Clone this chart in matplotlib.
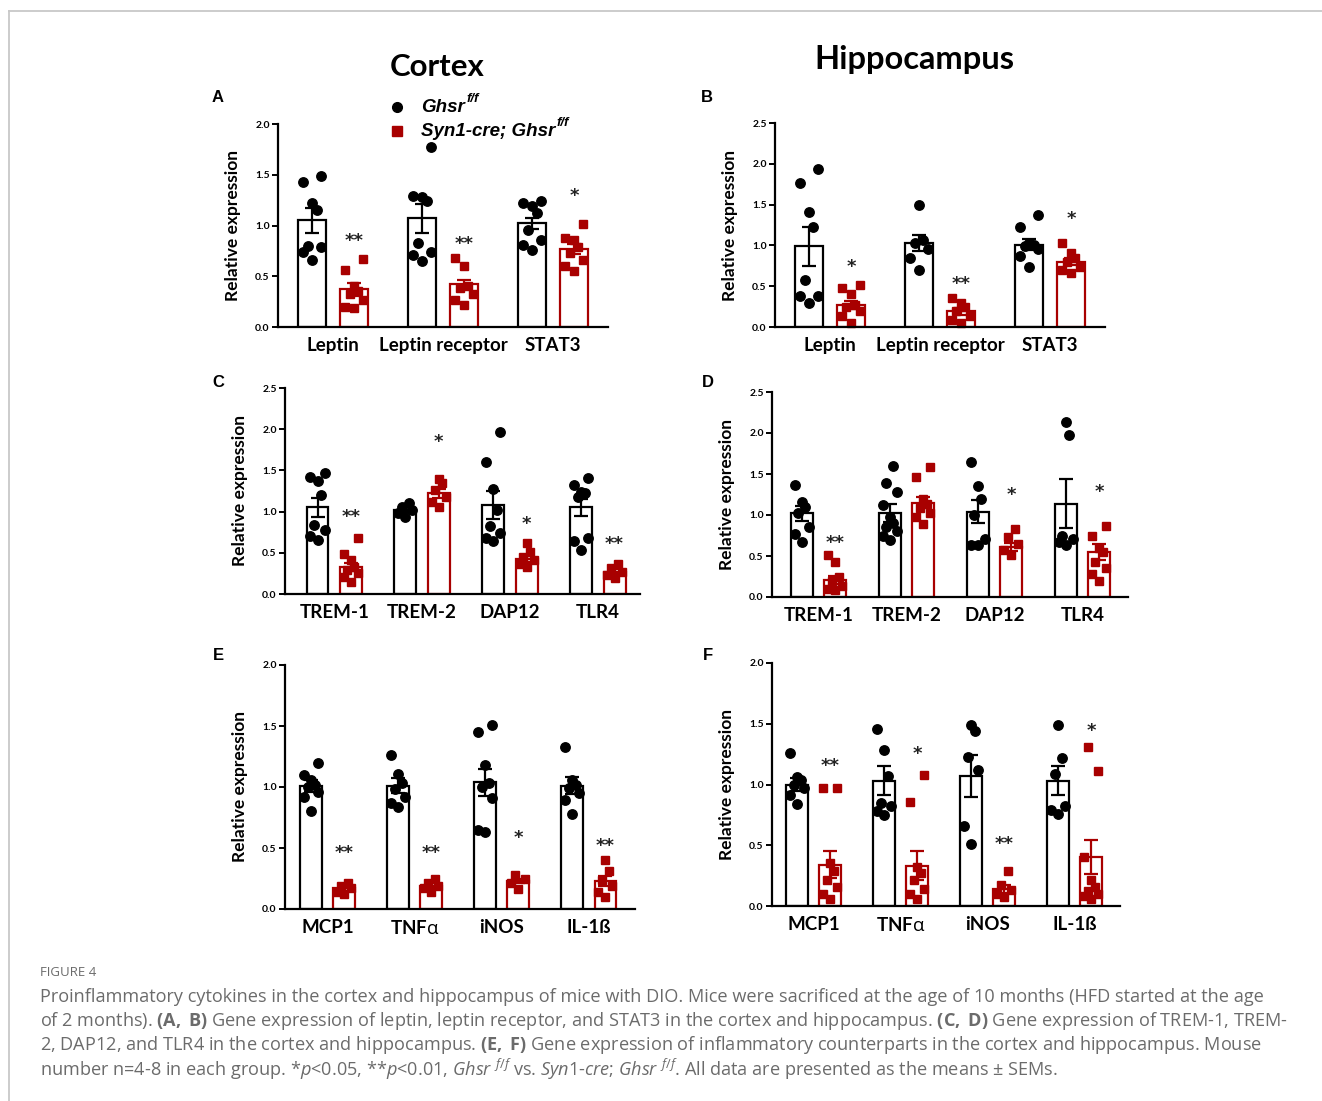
import numpy as np
import matplotlib
matplotlib.use('Agg')
import matplotlib.pyplot as plt
from matplotlib.lines import Line2D

plt.rcParams['mathtext.fontset'] = 'custom'
plt.rcParams['mathtext.rm'] = 'Open Sans'
plt.rcParams['mathtext.it'] = 'Open Sans:italic'
plt.rcParams['mathtext.bf'] = 'Open Sans:bold'

RED = '#a80000'
LABEL_FONT = 'Lato'

# ---- panel A: cortex, leptin signalling ----
a_cats = ['Leptin', 'Leptin receptor', 'STAT3']
a_ctrl_mean = [1.05, 1.07, 1.02]
a_ctrl_sem = [0.12, 0.14, 0.05]
a_ko_mean = [0.37, 0.42, 0.77]
a_ko_sem = [0.06, 0.04, 0.05]
a_ctrl_pts = [[1.49, 1.43, 1.22, 1.15, 0.80, 0.79, 0.74, 0.66],
              [1.77, 1.29, 1.28, 1.24, 0.83, 0.74, 0.71, 0.65],
              [1.24, 1.22, 1.19, 1.12, 0.96, 0.86, 0.81, 0.76]]
a_ko_pts = [[0.67, 0.56, 0.40, 0.35, 0.33, 0.27, 0.20, 0.19],
            [0.68, 0.60, 0.40, 0.38, 0.33, 0.27, 0.22],
            [1.01, 0.88, 0.86, 0.79, 0.73, 0.66, 0.60, 0.55]]
a_stars = ['**', '**', '*']
a_star_y = [0.85, 0.82, 1.29]

# ---- panel B: hippocampus, leptin signalling ----
b_cats = ['Leptin', 'Leptin receptor', 'STAT3']
b_ctrl_mean = [0.99, 1.03, 1.01]
b_ctrl_sem = [0.24, 0.10, 0.07]
b_ko_mean = [0.27, 0.19, 0.80]
b_ko_sem = [0.05, 0.04, 0.04]
b_ctrl_pts = [[1.94, 1.77, 1.41, 1.23, 0.57, 0.38, 0.38, 0.29],
              [1.50, 1.07, 1.03, 0.95, 0.85, 0.70],
              [1.37, 1.22, 1.03, 1.01, 0.99, 0.95, 0.87, 0.74]]
b_ko_pts = [[0.52, 0.48, 0.40, 0.27, 0.25, 0.19, 0.13, 0.05],
            [0.36, 0.29, 0.25, 0.19, 0.13, 0.09, 0.05],
            [1.03, 0.91, 0.85, 0.80, 0.74, 0.70, 0.66]]
b_stars = ['*', '**', '*']
b_star_y = [0.73, 0.53, 1.32]

# ---- panel C: cortex, microglia receptors ----
c_cats = ['TREM-1', 'TREM-2', 'DAP12', 'TLR4']
c_ctrl_mean = [1.05, 1.02, 1.08, 1.05]
c_ctrl_sem = [0.11, 0.03, 0.17, 0.10]
c_ko_mean = [0.33, 1.22, 0.43, 0.27]
c_ko_sem = [0.05, 0.05, 0.04, 0.03]
c_ctrl_pts = [[1.47, 1.42, 1.37, 1.20, 0.84, 0.78, 0.70, 0.66],
              [1.10, 1.06, 1.02, 0.98, 0.94],
              [1.97, 1.60, 1.28, 1.02, 0.82, 0.74, 0.68, 0.64],
              [1.41, 1.32, 1.24, 1.22, 1.18, 0.68, 0.64, 0.53]]
c_ko_pts = [[0.68, 0.49, 0.41, 0.33, 0.29, 0.25, 0.21, 0.15],
            [1.39, 1.35, 1.26, 1.18, 1.12, 1.06],
            [0.62, 0.51, 0.45, 0.41, 0.37, 0.33],
            [0.37, 0.31, 0.27, 0.23, 0.19]]
c_stars = ['**', '*', '*', '**']
c_star_y = [0.93, 1.84, 0.85, 0.61]

# ---- panel D: hippocampus, microglia receptors ----
d_cats = ['TREM-1', 'TREM-2', 'DAP12', 'TLR4']
d_ctrl_mean = [1.02, 1.02, 1.04, 1.14]
d_ctrl_sem = [0.09, 0.11, 0.14, 0.30]
d_ko_mean = [0.21, 1.15, 0.61, 0.55]
d_ko_sem = [0.05, 0.07, 0.05, 0.10]
d_ctrl_pts = [[1.36, 1.16, 1.10, 1.02, 0.85, 0.77, 0.67],
              [1.60, 1.39, 1.28, 1.12, 0.98, 0.90, 0.85, 0.80, 0.75, 0.69],
              [1.65, 1.35, 1.20, 1.00, 0.71, 0.63, 0.63],
              [2.13, 1.97, 0.75, 0.71, 0.67, 0.63]]
d_ko_pts = [[0.51, 0.43, 0.24, 0.20, 0.14, 0.10, 0.08],
            [1.59, 1.46, 1.20, 1.14, 1.08, 1.02, 0.98, 0.89],
            [0.83, 0.73, 0.65, 0.57, 0.51],
            [0.87, 0.75, 0.60, 0.55, 0.43, 0.35, 0.28, 0.20]]
d_stars = ['**', '', '*', '*']
d_star_y = [0.66, 0, 1.24, 1.28]

# ---- panel E: cortex, inflammatory markers ----
e_cats = ['MCP1', r'TNF$\mathrm{\alpha}$', 'iNOS', 'IL-1ß']
e_ctrl_mean = [1.01, 1.01, 1.04, 1.01]
e_ctrl_sem = [0.05, 0.06, 0.11, 0.07]
e_ko_mean = [0.17, 0.19, 0.23, 0.23]
e_ko_sem = [0.02, 0.02, 0.02, 0.04]
e_ctrl_pts = [[1.20, 1.10, 1.06, 1.02, 1.00, 0.96, 0.92, 0.80],
              [1.26, 1.11, 1.03, 0.98, 0.92, 0.87, 0.84],
              [1.51, 1.45, 1.18, 1.03, 1.00, 0.91, 0.65, 0.63],
              [1.33, 1.06, 1.02, 0.99, 0.95, 0.89, 0.78]]
e_ko_pts = [[0.21, 0.19, 0.17, 0.14, 0.12],
            [0.25, 0.21, 0.19, 0.17, 0.14],
            [0.28, 0.25, 0.21, 0.16],
            [0.40, 0.31, 0.24, 0.19, 0.14, 0.10]]
e_stars = ['**', '**', '*', '**']
e_star_y = [0.46, 0.46, 0.58, 0.52]

# ---- panel F: hippocampus, inflammatory markers ----
f_cats = ['MCP1', r'TNF$\mathrm{\alpha}$', 'iNOS', 'IL-1ß']
f_ctrl_mean = [1.00, 1.03, 1.07, 1.03]
f_ctrl_sem = [0.05, 0.12, 0.17, 0.12]
f_ko_mean = [0.34, 0.33, 0.14, 0.40]
f_ko_sem = [0.11, 0.12, 0.03, 0.14]
f_ctrl_pts = [[1.26, 1.06, 1.04, 1.00, 0.97, 0.91, 0.84],
              [1.46, 1.28, 1.07, 0.85, 0.82, 0.78, 0.75],
              [1.49, 1.44, 1.23, 1.12, 0.66, 0.51],
              [1.49, 1.22, 1.09, 0.82, 0.79, 0.76]]
f_ko_pts = [[0.97, 0.97, 0.35, 0.29, 0.21, 0.16, 0.10, 0.06],
            [1.08, 0.86, 0.32, 0.27, 0.21, 0.14, 0.10, 0.06],
            [0.29, 0.17, 0.13, 0.10, 0.07],
            [1.31, 1.11, 0.40, 0.21, 0.16, 0.12, 0.10, 0.08, 0.06]]
f_stars = ['**', '*', '**', '*']
f_star_y = [1.15, 1.25, 0.51, 1.44]

W, H = 1322, 1101
OFF = 0.19
BW = 0.25


def px_axes(fig, x0, x1, ytop, ybot):
    return fig.add_axes([x0 / W, 1 - ybot / H, (x1 - x0) / W, (ybot - ytop) / H])


def swarm(vals):
    # spread points sideways by rank so they don't sit on top of each other
    order = np.argsort(vals)
    pattern = np.array([0.0, -1.0, 1.0, -0.5, 0.5])
    offs = np.zeros(len(vals))
    for rank, i in enumerate(order):
        offs[i] = pattern[rank % 5] * 0.08
    return offs


def draw_panel(ax, cats, cm, cs, cpts, km, ks, kpts, stars, star_y, ymax, xlim):
    x = np.arange(len(cats))
    ax.bar(x - OFF, cm, BW, color='white', edgecolor='black', linewidth=1.6, zorder=1)
    ax.bar(x + OFF, km, BW, color='white', edgecolor=RED, linewidth=1.6, zorder=1)
    for i in range(len(cats)):
        ax.plot(x[i] - OFF + swarm(cpts[i]), cpts[i], 'o', color='black', ms=6.8,
                zorder=2, clip_on=False)
        ax.plot(x[i] + OFF + swarm(kpts[i]), kpts[i], 's', color=RED, ms=6.3,
                zorder=2, clip_on=False)
        if stars[i]:
            ax.text(x[i] + OFF, star_y[i], stars[i], ha='center', va='center',
                    fontsize=13, fontweight='bold', color='#222222', family='DejaVu Sans')
    ax.errorbar(x - OFF, cm, yerr=cs, fmt='none', ecolor='black', elinewidth=1.6,
                capsize=5, capthick=1.6, zorder=3)
    ax.errorbar(x + OFF, km, yerr=ks, fmt='none', ecolor=RED, elinewidth=1.6,
                capsize=5, capthick=1.6, zorder=3)
    ax.set_xlim(*xlim)
    ax.set_ylim(0, ymax)
    ax.set_yticks(np.arange(0, ymax + 0.01, 0.5))
    ax.set_yticklabels(['%.1f' % v for v in np.arange(0, ymax + 0.01, 0.5)],
                       fontsize=7.5, fontweight='bold', family=LABEL_FONT)
    ax.set_xticks(x)
    ax.set_xticklabels(cats, fontsize=13.5, fontweight='bold', family=LABEL_FONT)
    ax.tick_params(axis='x', length=0, pad=7)
    ax.tick_params(axis='y', length=4, width=1.4, pad=2)
    ax.spines['top'].set_visible(False)
    ax.spines['right'].set_visible(False)
    ax.spines['left'].set_linewidth(1.6)
    ax.spines['bottom'].set_linewidth(1.6)
    ax.set_ylabel('Relative expression', fontsize=12.5, fontweight='bold',
                  family=LABEL_FONT, labelpad=10)
    ax.patch.set_alpha(0)


fig = plt.figure(figsize=(W / 100, H / 100), dpi=100)

# thin frame lines at the top and left of the figure
fig.add_artist(Line2D([9 / W, 1], [1 - 11 / H, 1 - 11 / H], color='#c8c8c8', lw=1.3))
fig.add_artist(Line2D([9 / W, 9 / W], [0, 1 - 11 / H], color='#c8c8c8', lw=1.3))

axA = px_axes(fig, 278, 608, 124, 327)
draw_panel(axA, a_cats, a_ctrl_mean, a_ctrl_sem, a_ctrl_pts, a_ko_mean, a_ko_sem,
           a_ko_pts, a_stars, a_star_y, 2.0, (-0.5, 2.5))
axB = px_axes(fig, 775, 1105, 123, 327)
draw_panel(axB, b_cats, b_ctrl_mean, b_ctrl_sem, b_ctrl_pts, b_ko_mean, b_ko_sem,
           b_ko_pts, b_stars, b_star_y, 2.5, (-0.5, 2.5))
axC = px_axes(fig, 285, 640, 388, 594)
draw_panel(axC, c_cats, c_ctrl_mean, c_ctrl_sem, c_ctrl_pts, c_ko_mean, c_ko_sem,
           c_ko_pts, c_stars, c_star_y, 2.5, (-0.56, 3.48))
axD = px_axes(fig, 772, 1128, 392, 597)
draw_panel(axD, d_cats, d_ctrl_mean, d_ctrl_sem, d_ctrl_pts, d_ko_mean, d_ko_sem,
           d_ko_pts, d_stars, d_star_y, 2.5, (-0.53, 3.52))
axE = px_axes(fig, 285, 635, 665, 909)
draw_panel(axE, e_cats, e_ctrl_mean, e_ctrl_sem, e_ctrl_pts, e_ko_mean, e_ko_sem,
           e_ko_pts, e_stars, e_star_y, 2.0, (-0.49, 3.53))
axF = px_axes(fig, 772, 1120, 663, 906)
draw_panel(axF, f_cats, f_ctrl_mean, f_ctrl_sem, f_ctrl_pts, f_ko_mean, f_ko_sem,
           f_ko_pts, f_stars, f_star_y, 2.0, (-0.48, 3.52))

# column titles and panel letters
fig.text(437 / W, 1 - 67 / H, 'Cortex', ha='center', va='center', fontsize=22.5,
         fontweight='bold', family=LABEL_FONT)
fig.text(914 / W, 1 - 60 / H, 'Hippocampus', ha='center', va='center', fontsize=23.5,
         fontweight='bold', family=LABEL_FONT)
for letter, (lx, ly) in zip('ABCDEF', [(218, 97), (707, 97), (218, 383), (708, 383),
                                       (218, 656), (708, 656)]):
    fig.text(lx / W, 1 - ly / H, letter, ha='center', va='center', fontsize=12,
             fontweight='bold', family='Liberation Sans')

# legend of panel A
fig.add_artist(Line2D([397 / W], [1 - 107 / H], marker='o', color='black', ms=7, ls='none'))
fig.add_artist(Line2D([397 / W], [1 - 131 / H], marker='s', color=RED, ms=6.5, ls='none'))
for ly, label in [(107, 'Ghsr'), (131, 'Syn1-cre; Ghsr')]:
    t = fig.text(421 / W, 1 - ly / H, label, ha='left', va='center', fontsize=13.5,
                 fontstyle='italic', fontweight='bold', family='Liberation Sans')
    fig.add_artist(matplotlib.text.Annotation('f/f', xy=(1, 0.62), xycoords=t,
                                              xytext=(1, 0), textcoords='offset points',
                                              ha='left', va='bottom', fontsize=9.5,
                                              fontstyle='italic', fontweight='bold',
                                              family='Liberation Sans'))

# caption
GREY = '#6b6b6b'
fig.text(40 / W, 1 - 973 / H, 'FIGURE 4', ha='left', va='center', fontsize=9.5,
         color=GREY, family='Open Sans')
caption = [
    'Proinflammatory cytokines in the cortex and hippocampus of mice with DIO. Mice were '
    'sacrificed at the age of 10 months (HFD started at the age',
    r'of 2 months). $\mathbf{(A,}$ $\mathbf{B)}$ Gene expression of leptin, leptin receptor, '
    r'and STAT3 in the cortex and hippocampus. $\mathbf{(C,}$ $\mathbf{D)}$ Gene expression '
    'of TREM-1, TREM-',
    r'2, DAP12, and TLR4 in the cortex and hippocampus. $\mathbf{(E,}$ $\mathbf{F)}$ Gene '
    'expression of inflammatory counterparts in the cortex and hippocampus. Mouse',
    r'number n=4-8 in each group. *$\mathit{p}$<0.05, **$\mathit{p}$<0.01, '
    r'$\mathit{Ghsr}\ ^{\mathit{f/f}}$ vs. $\mathit{Syn1}$-$\mathit{cre}$; '
    r'$\mathit{Ghsr}\ ^{\mathit{f/f}}$. All data are presented as the means ± SEMs.',
]
for i, line in enumerate(caption):
    fig.text(40 / W, 1 - (997 + 24 * i) / H, line, ha='left', va='center',
             fontsize=13.1, color=GREY, family='Open Sans')

fig.savefig('out.png', dpi=100)
